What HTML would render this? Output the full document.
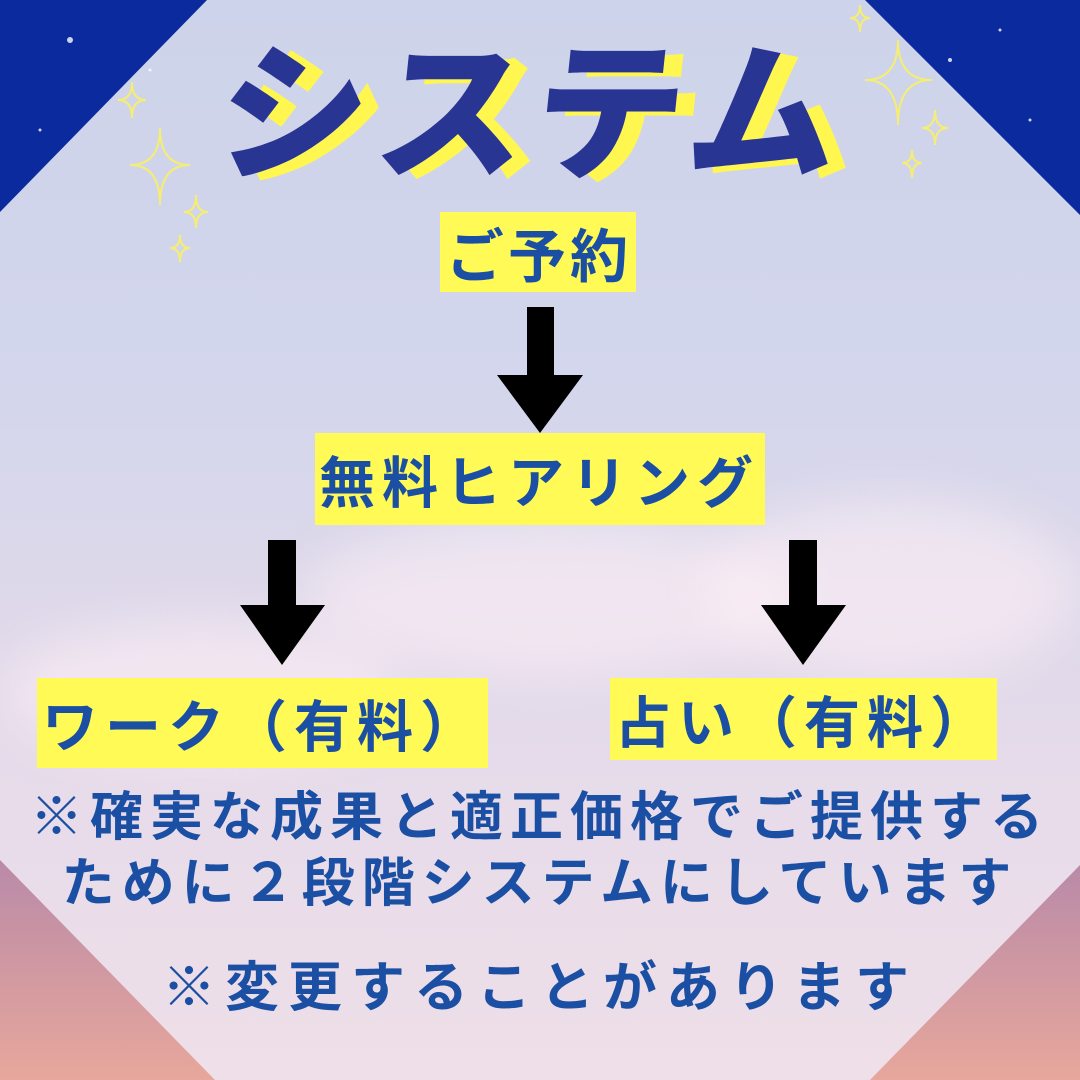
<!DOCTYPE html>
<html><head><meta charset="utf-8"><style>
body{margin:0}
#c{position:relative;width:1080px;height:1080px;overflow:hidden;font-family:"Liberation Sans","Noto Sans CJK JP",sans-serif;
background:linear-gradient(180deg,#cdd3ea 0%,#d3d6ec 35%,#ddd8ea 55%,#e8dcea 75%,#eedfe8 100%)}
.cl{position:absolute;border-radius:50%;background:rgba(255,240,245,.55);filter:blur(25px)}
.box{position:absolute;background:#fffa55;color:#1b4fa3;font-weight:700;white-space:nowrap;display:flex;align-items:center}
.t{position:absolute;color:#1b4fa3;font-weight:700;white-space:nowrap;left:0;width:1080px;text-align:center}
.ti{position:absolute;font-size:150px;font-weight:900;letter-spacing:8px;transform:skewX(-6deg);white-space:nowrap}
</style></head><body><div id="c">
<div class="cl" style="left:300px;top:520px;width:500px;height:160px"></div>
<div class="cl" style="left:0;top:620px;width:400px;height:140px"></div>
<div class="cl" style="left:700px;top:500px;width:380px;height:180px"></div>
<svg width="1080" height="1080" style="position:absolute;left:0;top:0">
<defs><linearGradient id="pk" x1="0" y1="0" x2="0" y2="1"><stop offset="0" stop-color="#b98aa8"/><stop offset="1" stop-color="#e7a79b"/></linearGradient></defs>
<polygon points="0,0 207,0 0,212" fill="#0a2a9e"/>
<polygon points="865,0 1080,0 1080,215" fill="#0a2a9e"/>
<polygon points="0,860 0,1080 215,1080" fill="url(#pk)"/>
<polygon points="1080,865 1080,1080 870,1080" fill="url(#pk)"/>
<g fill="#fff" opacity=".8"><circle cx="70" cy="40" r="3"/><circle cx="150" cy="70" r="1.5"/><circle cx="40" cy="130" r="1.5"/><circle cx="950" cy="60" r="2"/><circle cx="1030" cy="120" r="1.5"/><circle cx="1000" cy="30" r="1.5"/></g>
<g fill="none" stroke="#f5ee70" stroke-width="2">
<path d="M160 128 Q160 165 130 165 Q160 165 160 205 Q160 165 190 165 Q160 165 160 128Z"/>
<path d="M132 82 Q132 100 118 100 Q132 100 132 118 Q132 100 146 100 Q132 100 132 82Z"/>
<path d="M196 195 Q196 212 184 212 Q196 212 196 228 Q196 212 208 212 Q196 212 196 195Z"/>
<path d="M180 235 Q180 248 170 248 Q180 248 180 262 Q180 248 190 248 Q180 248 180 235Z"/>
<path d="M898 40 Q898 80 865 80 Q898 80 898 125 Q898 80 932 80 Q898 80 898 40Z"/>
<path d="M860 5 Q860 18 850 18 Q860 18 860 32 Q860 18 870 18 Q860 18 860 5Z"/>
<path d="M935 110 Q935 128 922 128 Q935 128 935 145 Q935 128 948 128 Q935 128 935 110Z"/>
<path d="M912 150 Q912 163 902 163 Q912 163 912 178 Q912 163 922 163 Q912 163 912 150Z"/>
</g>
<g fill="#000">
<rect x="527" y="307" width="27" height="70"/><polygon points="497,375 583,375 540,433"/>
<rect x="268" y="540" width="28" height="66"/><polygon points="240,605 325,605 282,665"/>
<rect x="789" y="540" width="28" height="66"/><polygon points="761,605 846,605 803,665"/>
</g>
</svg>
<div class="ti" style="left:238px;top:-2px;color:#fff650">システム</div>
<div class="ti" style="left:220px;top:-6px;color:#283593">システム</div>
<div class="box" style="left:440px;top:212px;width:196px;height:80px;font-size:58px;letter-spacing:4px;padding-left:6px;box-sizing:border-box">ご予約</div>
<div class="box" style="left:315px;top:433px;width:450px;height:92px;font-size:56px;letter-spacing:7px;padding-left:4px;box-sizing:border-box">無料ヒアリング</div>
<div class="box" style="left:37px;top:678px;width:451px;height:90px;font-size:56px;letter-spacing:7px;padding-left:5px;box-sizing:border-box">ワーク（有料）</div>
<div class="box" style="left:610px;top:678px;width:387px;height:82px;font-size:56px;letter-spacing:7px;padding-left:5px;box-sizing:border-box">占い（有料）</div>
<div class="t" style="top:785px;font-size:53px;line-height:66px;letter-spacing:7px">※確実な成果と適正価格でご提供する<br>ために２段階システムにしています</div>
<div class="t" style="top:955px;font-size:54px;line-height:66px;letter-spacing:9px">※変更することがあります</div>
</div></body></html>
